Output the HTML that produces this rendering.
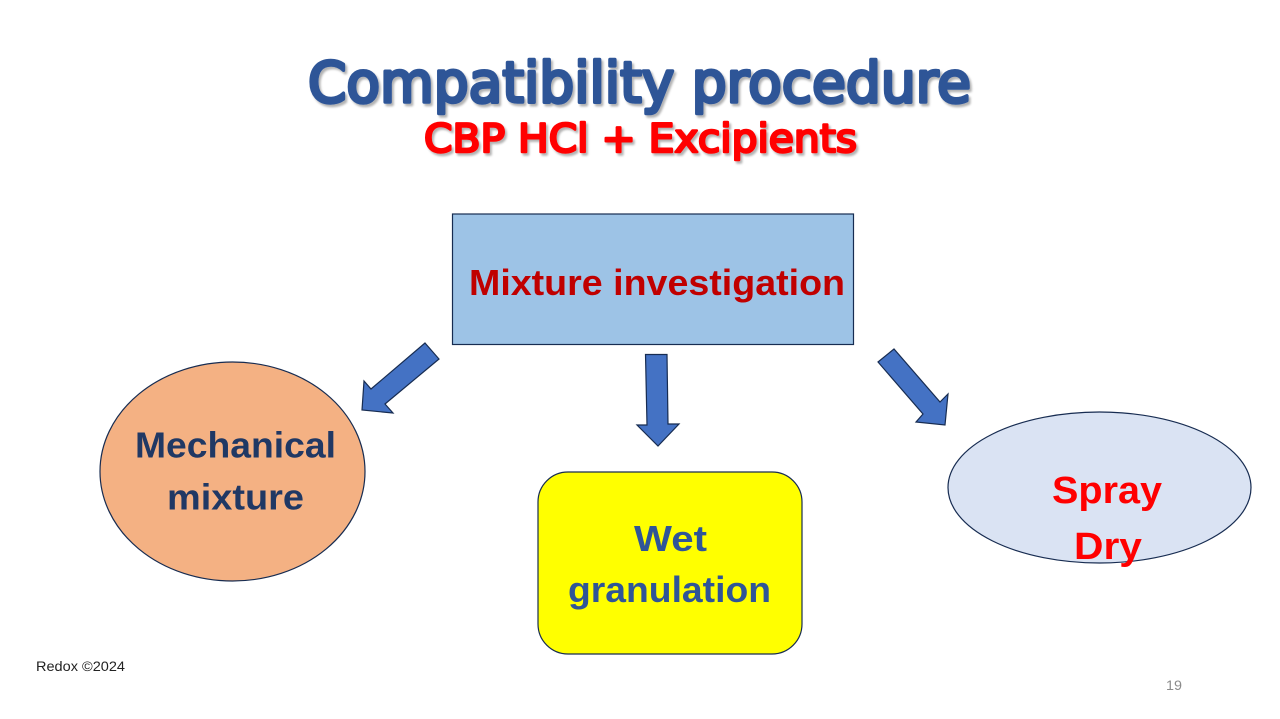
<!DOCTYPE html>
<html lang="en">
<head>
<meta charset="utf-8">
<title>Compatibility procedure</title>
<style>
html,body{margin:0;padding:0;background:#fff;width:1280px;height:719px;overflow:hidden}
svg{display:block}
text{font-family:"Liberation Sans",sans-serif}
.b{font-weight:bold}
.t{font-family:"DejaVu Sans",sans-serif;font-weight:normal;stroke-linejoin:round;stroke-linecap:round}
</style>
</head>
<body>
<svg width="1280" height="719" viewBox="0 0 1280 719" xmlns="http://www.w3.org/2000/svg">
<rect width="1280" height="719" fill="#fff"/>
<defs>
<filter id="s" x="-5%" y="-20%" width="110%" height="140%">
<feDropShadow dx="2" dy="2.500" stdDeviation="1" flood-color="#000" flood-opacity="0.3"/>
</filter>
</defs>

<g filter="url(#s)">
<text class="t" x="308" y="102" font-size="56" textLength="663" lengthAdjust="spacingAndGlyphs" fill="#2f5597" stroke="#2f5597" stroke-width="3.500">Compatibility procedure</text>
<text class="t" x="424" y="152" font-size="39" textLength="433" lengthAdjust="spacingAndGlyphs" fill="#ff0000" stroke="#ff0000" stroke-width="2.500">CBP HCl + Excipients</text>
</g>

<rect x="452.500" y="214" width="401" height="130.500" fill="#9dc3e6" stroke="#172c51" stroke-width="1.200"/>
<text class="b" x="469" y="295" font-size="36" textLength="376" lengthAdjust="spacingAndGlyphs" fill="#c00000">Mixture investigation</text>

<polygon points="425,343 439,359 385,404 393,413 362,410 364,381 371,389" fill="#4472c4" stroke="#172c51" stroke-width="1.200" stroke-linejoin="miter"/>
<polygon points="645.500,354.500 667,354.500 668,424 679,424 658,446 637,425 647,425" fill="#4472c4" stroke="#172c51" stroke-width="1.200"/>
<polygon points="894,349 878,362 923,414 916,422 945,425 948,394 940,402" fill="#4472c4" stroke="#172c51" stroke-width="1.200"/>

<ellipse cx="232.500" cy="471.500" rx="132.500" ry="109.500" fill="#f4b183" stroke="#172c51" stroke-width="1.200"/>
<text class="b" x="135" y="457.500" font-size="36" textLength="201" lengthAdjust="spacingAndGlyphs" fill="#203864">Mechanical</text>
<text class="b" x="167" y="509.500" font-size="36" textLength="137" lengthAdjust="spacingAndGlyphs" fill="#203864">mixture</text>

<rect x="538" y="472" width="264" height="182" rx="30" ry="30" fill="#ffff00" stroke="#172c51" stroke-width="1.200"/>
<text class="b" x="634" y="551" font-size="36" textLength="73" lengthAdjust="spacingAndGlyphs" fill="#2f5597">Wet</text>
<text class="b" x="568" y="602" font-size="36" textLength="203" lengthAdjust="spacingAndGlyphs" fill="#2f5597">granulation</text>

<ellipse cx="1099.500" cy="487.500" rx="151.500" ry="75.500" fill="#dae3f3" stroke="#172c51" stroke-width="1.200"/>
<text class="b" x="1052" y="503" font-size="38" textLength="110" lengthAdjust="spacingAndGlyphs" fill="#ff0000">Spray</text>
<text class="b" x="1074" y="559" font-size="38" textLength="68" lengthAdjust="spacingAndGlyphs" fill="#ff0000">Dry</text>

<text x="36" y="671" font-size="13.500" textLength="89" lengthAdjust="spacingAndGlyphs" fill="#222">Redox ©2024</text>
<text x="1166" y="690" font-size="13.500" textLength="16" lengthAdjust="spacingAndGlyphs" fill="#8b8b8b">19</text>
</svg>
</body>
</html>
